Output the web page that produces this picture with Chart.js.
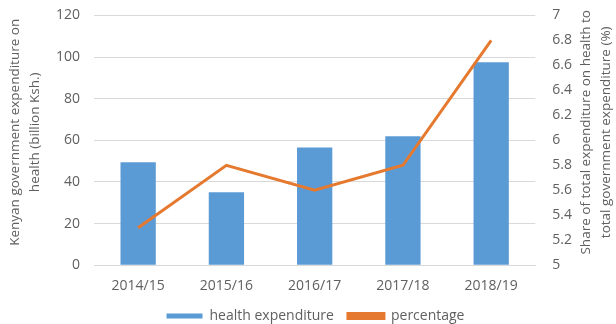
<!DOCTYPE html>
<html>
<head>
<meta charset="utf-8">
<script src="https://cdn.jsdelivr.net/npm/chart.js@4"></script>
<style>
  html, body { margin: 0; padding: 0; background: #fff; overflow: hidden; }
  #wrap { width: 616px; height: 343px; margin-top: -10px; }
</style>
</head>
<body>
<div id="wrap"><canvas id="health-chart"></canvas></div>
<script>
// years and values
var years = ["2014/15", "2015/16", "2016/17", "2017/18", "2018/19"]
var spending = [49.5, 35, 56.5, 62, 97.5]
var share = [5.3, 5.8, 5.6, 5.8, 6.8]

var leftTitle = ["Kenyan government expenditure on", "health (billion Ksh.)"]
var rightTitle = ["Share of total expenditure on health to", "total government expenditure (%)"]

var textColor = "#606060"
var gridColor = "#d9d9d9"
var font = { family: "'Open Sans', sans-serif", size: 14 }

// both axis titles read bottom to top, so draw them by hand
const axisTitles = {
    id: "axisTitles",
    afterDraw(c) {
        var ctx = c.ctx
        var mid = (c.chartArea.top + c.chartArea.bottom) / 2 - 8
        ctx.save()
        ctx.fillStyle = textColor
        ctx.font = "13.5px 'Open Sans', sans-serif"
        ctx.textAlign = "center"
        ctx.textBaseline = "middle"
        var draw = function (lines, x0) {
            for (var i = 0; i < lines.length; i++) {
                ctx.save()
                ctx.translate(x0 + i * 20, mid)
                ctx.rotate(-Math.PI / 2)
                ctx.fillText(lines[i], 0, 0)
                ctx.restore()
            }
        }
        draw(leftTitle, 15)
        draw(rightTitle, 586)
        ctx.restore()
    }
}

const data = {
    labels: years,
    datasets: [
        {
            type: "line",
            label: "percentage",
            data: share,
            yAxisID: "y1",
            borderColor: "#e5792f",
            backgroundColor: "#e5792f",
            borderWidth: 3,
            pointRadius: 0,
            tension: 0,
            order: 0
        },
        {
            type: "bar",
            label: "health expenditure",
            data: spending,
            yAxisID: "y",
            backgroundColor: "#5b9bd5",
            categoryPercentage: 1,
            barPercentage: 0.4,
            order: 1
        }
    ]
};

const config = {
    data,
    options: {
        responsive: true,
        maintainAspectRatio: false,
        animation: false,
        layout: { padding: { left: 42, right: 27, top: 0, bottom: 0 } },
        plugins: {
            legend: {
                position: "bottom",
                reverse: true,
                labels: {
                    color: textColor,
                    font: font,
                    boxWidth: 36,
                    boxHeight: 5,
                    padding: 14
                }
            },
            tooltip: { enabled: false }
        },
        scales: {
            x: {
                grid: { display: false },
                border: { color: gridColor },
                ticks: { color: textColor, font: font, padding: 4 },
                afterFit: function (s) { s.height -= 3 }
            },
            y: {
                position: "left",
                min: 0,
                max: 120,
                ticks: { stepSize: 20, color: textColor, font: font, padding: 14 },
                grid: { color: gridColor, drawTicks: false },
                border: { display: false }
            },
            y1: {
                position: "right",
                min: 5,
                max: 7,
                ticks: {
                    stepSize: 0.2,
                    color: textColor,
                    font: font,
                    padding: 17,
                    callback: function (v) { return String(Math.round(v * 10) / 10) }
                },
                grid: { drawOnChartArea: false, drawTicks: false },
                border: { display: false }
            }
        }
    },
    plugins: [axisTitles]
};

var chart = new Chart(document.getElementById("health-chart"), config)
</script>
</body>
</html>
